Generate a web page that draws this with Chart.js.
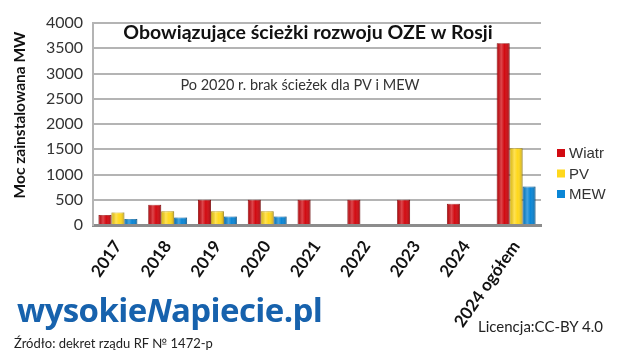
<!DOCTYPE html>
<html><head><meta charset="utf-8">
<script src="https://cdn.jsdelivr.net/npm/chart.js@4.4.1/dist/chart.umd.min.js"></script>
<style>
html,body{margin:0;padding:0;background:#fff;}
#wrap{position:relative;width:619px;height:353px;overflow:hidden;}
canvas{position:absolute;left:0;top:0;}
.logo{position:absolute;left:17px;top:287px;font-family:"Open Sans",Lato,sans-serif;font-weight:700;font-size:33px;color:#1762ad;letter-spacing:-0.6px;}
.src{position:absolute;left:14px;top:335px;font-family:Lato,sans-serif;font-size:13px;color:#222;}
.lic{position:absolute;left:478px;top:317px;font-family:Lato,sans-serif;font-size:15px;color:#222;}
</style></head>
<body><div id="wrap"><canvas id="c" width="619" height="353"></canvas>
<div class="logo">wysokie<span style="font-style:italic">N</span>apiecie.pl</div>
<div class="src">Źródło: dekret rządu RF № 1472-p</div>
<div class="lic">Licencja:CC-BY 4.0</div>
</div>
<script>
const categories = ["2017","2018","2019","2020","2021","2022","2023","2024","2024 ogółem"];
const wiatr = [200, 400, 500, 500, 500, 500, 500, 420, 3600];
const pv    = [250, 270, 270, 270, null, null, null, null, 1520];
const mew   = [120, 150, 170, 170, null, null, null, null, 760];
const seriesNames = ["Wiatr","PV","MEW"];
const seriesColors = ["#d20a11","#ffd81c","#0a86d6"];
const seriesBorders = ["#9a0000","#c9a200","#05609e"];
const yTicks = [0,500,1000,1500,2000,2500,3000,3500,4000];
const titleText = "Obowiązujące ścieżki rozwoju OZE w Rosji";
const subText = "Po 2020 r. brak ścieżek dla PV i MEW";
const yTitle = "Moc zainstalowana MW";

const overlay = {
  id:'overlay',
  afterDatasetsDraw(chart){
    const c = chart.ctx;
    chart.data.datasets.forEach((ds,i)=>{
      chart.getDatasetMeta(i).data.forEach((el,j)=>{
        if(ds.data[j]==null) return;
        const x0 = el.x - el.width/2, w = el.width, top = el.y, h = el.base - el.y;
        const g = c.createLinearGradient(x0,0,x0+w,0);
        g.addColorStop(0,'rgba(0,0,0,0.12)');
        g.addColorStop(0.35,'rgba(255,255,255,0.25)');
        g.addColorStop(0.6,'rgba(255,255,255,0)');
        g.addColorStop(1,'rgba(0,0,0,0.25)');
        c.save(); c.fillStyle=g; c.fillRect(x0,top,w,h); c.restore();
      });
    });
  },
  afterDraw(chart){
    const c = chart.ctx;
    c.save();
    c.fillStyle='#111'; c.textAlign='center'; c.textBaseline='middle';
    c.font='bold 19.5px Lato';
    c.fillText(titleText, 308, 33);
    c.font='14.5px Lato'; c.fillStyle='#333';
    c.fillText(subText, 300, 85);
    c.save(); c.translate(20,115); c.rotate(-Math.PI/2);
    c.font='bold 15.5px Lato'; c.fillStyle='#111';
    c.fillText(yTitle,0,0); c.restore();
    c.textAlign='left';
    c.font='15px "Liberation Sans", Arial';
    chart.data.datasets.forEach((ds,i)=>{
      const y = 153 + i*20.5;
      c.fillStyle = ds.backgroundColor;
      c.fillRect(557, y-4, 8, 8);
      c.fillStyle='#333';
      c.fillText(ds.label, 569, y+1);
    });
    c.restore();
  }
};

const datasets = [wiatr,pv,mew].map((d,i)=>({
  label: seriesNames[i], data: d,
  backgroundColor: seriesColors[i], borderColor: seriesBorders[i], borderWidth: 0.8,
  categoryPercentage: 0.78, barPercentage: 1.0, skipNull: false
}));

new Chart(document.getElementById('c'), {
  type:'bar',
  data:{labels:categories, datasets},
  options:{
    responsive:false, animation:false,
    layout:{padding:{top:23, right:78, left:0, bottom:0}},
    plugins:{legend:{display:false}, title:{display:false}, tooltip:{enabled:false}},
    scales:{
      x:{
        grid:{display:false, drawTicks:false},
        border:{color:'#8c8c8c', width:3},
        ticks:{font:{family:'Lato', size:17, weight:'bold'}, color:'#111', minRotation:55, maxRotation:55, padding:12},
        afterFit(s){ s.height = 128; }
      },
      y:{
        min:0, max:4000,
        afterBuildTicks(s){ s.ticks = yTicks.map(v=>({value:v})); },
        grid:{color:'#b4b4b4', lineWidth:2, drawTicks:false},
        border:{color:'#b4b4b4', width:2},
        ticks:{font:{family:'Lato', size:16}, color:'#333', padding:10, callback:(v)=>String(v)},
        afterFit(s){ s.width = 93; }
      }
    }
  },
  plugins:[overlay]
});
</script>
</body></html>
